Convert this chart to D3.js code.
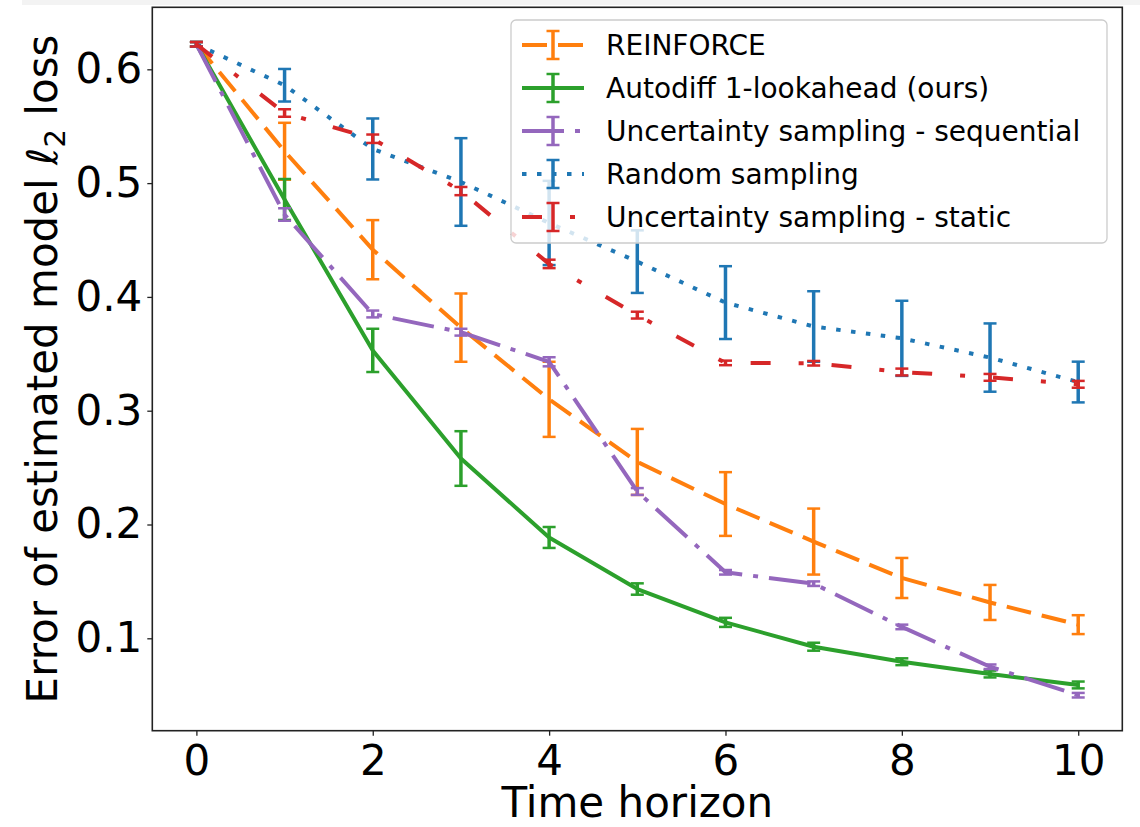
<!DOCTYPE html>
<html>
<head>
<meta charset="utf-8">
<script src="https://cdn.jsdelivr.net/npm/d3@7"></script>
<style>
  body { margin: 0; background: #fff; }
  svg { display: block; font-family: "DejaVu Sans", sans-serif; }
</style>
</head>
<body>
<div id="chart"></div>
<script>
// values (mean +- error at each time step)
const steps = [0, 1, 2, 3, 4, 5, 6, 7, 8, 9, 10];

const reinforce_mean = [0.622, 0.528, 0.4415, 0.373, 0.310, 0.255, 0.218, 0.185, 0.153, 0.1315, 0.112];
const reinforce_err = [0.002, 0.025, 0.026, 0.030, 0.033, 0.029, 0.028, 0.029, 0.0176, 0.0154, 0.0083];

const autodiff_mean = [0.622, 0.4856, 0.353, 0.258, 0.1886, 0.1433, 0.114, 0.0926, 0.0794, 0.0686, 0.059];
const autodiff_err = [0.002, 0.018, 0.019, 0.024, 0.0092, 0.005, 0.004, 0.0035, 0.003, 0.003, 0.003];

const seq_mean = [0.622, 0.4724, 0.385, 0.369, 0.343, 0.229, 0.158, 0.148, 0.110, 0.075, 0.050];
const seq_err = [0.002, 0.0055, 0.003, 0.003, 0.004, 0.003, 0.002, 0.002, 0.002, 0.002, 0.002];

const random_mean = [0.622, 0.586, 0.530, 0.501, 0.465, 0.431, 0.395, 0.374, 0.3636, 0.3467, 0.3252];
const random_err = [0.002, 0.0143, 0.0268, 0.0385, 0.037, 0.0275, 0.032, 0.031, 0.033, 0.030, 0.0179];

const static_mean = [0.622, 0.5616, 0.539, 0.493, 0.429, 0.384, 0.342, 0.3417, 0.334, 0.3293, 0.3232];
const static_err = [0.002, 0.0033, 0.0037, 0.0036, 0.0037, 0.003, 0.002, 0.002, 0.003, 0.003, 0.003];

const labels = [
    "REINFORCE",
    "Autodiff 1-lookahead (ours)",
    "Uncertainty sampling - sequential",
    "Random sampling",
    "Uncertainty sampling - static"
];
const x_ticks = [0, 2, 4, 6, 8, 10];
const y_ticks = [0.1, 0.2, 0.3, 0.4, 0.5, 0.6];

const COLORS = ["#ff7f0e", "#2ca02c", "#9467bd", "#1f77b4", "#d62728"];
const DASHES = ["25,11", null, "42,11,5,11", "4.5,10.5", "20,28,5,28"];

const series = [
    { mean: reinforce_mean, err: reinforce_err },
    { mean: autodiff_mean, err: autodiff_err },
    { mean: seq_mean, err: seq_err },
    { mean: random_mean, err: random_err },
    { mean: static_mean, err: static_err }
];

const W = 1140, H = 827;
const plot = { left: 152.3, right: 1122.3, top: 7.3, bottom: 730.7 };

const svg = d3.select("#chart").append("svg")
    .attr("width", W)
    .attr("height", H);

// faint grey strip along the top of the image
svg.append("rect")
    .attr("x", 22).attr("y", 0)
    .attr("width", W - 22).attr("height", 5)
    .attr("fill", "#f3f3f3");

const x = d3.scaleLinear().domain([-0.5, 10.5]).range([plot.left, plot.right]);
const y = d3.scaleLinear().domain([0.0188, 0.6545]).range([plot.bottom, plot.top]);

const line = d3.line()
    .x((d, i) => x(steps[i]))
    .y(d => y(d));

const cap = 6.5;

series.forEach((s, k) => {
    const g = svg.append("g");
    const path = g.append("path")
        .datum(s.mean)
        .attr("fill", "none")
        .attr("stroke", COLORS[k])
        .attr("stroke-width", 4)
        .attr("stroke-linecap", "butt")
        .attr("stroke-linejoin", "round")
        .attr("d", line);
    if (DASHES[k]) path.attr("stroke-dasharray", DASHES[k]);

    steps.forEach((t, i) => {
        const lo = y(s.mean[i] - s.err[i]);
        const hi = y(s.mean[i] + s.err[i]);
        g.append("line")
            .attr("x1", x(t)).attr("x2", x(t))
            .attr("y1", lo).attr("y2", hi)
            .attr("stroke", COLORS[k])
            .attr("stroke-width", 3.5);
        [lo, hi].forEach(yy => {
            g.append("line")
                .attr("x1", x(t) - cap).attr("x2", x(t) + cap)
                .attr("y1", yy).attr("y2", yy)
                .attr("stroke", COLORS[k])
                .attr("stroke-width", 2.5);
        });
    });
});

// frame
svg.append("rect")
    .attr("x", plot.left).attr("y", plot.top)
    .attr("width", plot.right - plot.left)
    .attr("height", plot.bottom - plot.top)
    .attr("fill", "none")
    .attr("stroke", "#222")
    .attr("stroke-width", 1.6);

// Add the X Axis
const xAxis = svg.append("g")
    .attr("transform", "translate(0," + plot.bottom + ")")
    .call(d3.axisBottom(x).tickValues(x_ticks).tickSize(5).tickPadding(9).tickFormat(d3.format("d")));
xAxis.select(".domain").remove();
xAxis.selectAll("line").attr("stroke", "#222").attr("stroke-width", 1.3);
xAxis.selectAll("text")
    .attr("font-size", "42px")
    .attr("fill", "#000")
    .attr("font-family", "DejaVu Sans");

// Add the Y Axis
const yAxis = svg.append("g")
    .attr("transform", "translate(" + plot.left + ",0)")
    .call(d3.axisLeft(y).tickValues(y_ticks).tickSize(5).tickPadding(5).tickFormat(d3.format(".1f")));
yAxis.select(".domain").remove();
yAxis.selectAll("line").attr("stroke", "#222").attr("stroke-width", 1.3);
yAxis.selectAll("text")
    .attr("font-size", "42px")
    .attr("fill", "#000")
    .attr("font-family", "DejaVu Sans");

// axis titles
svg.append("text")
    .attr("x", (plot.left + plot.right) / 2)
    .attr("y", 817)
    .attr("text-anchor", "middle")
    .attr("font-size", "42px")
    .text("Time horizon");

const ylab = svg.append("text")
    .attr("transform", "translate(57," + ((plot.top + plot.bottom) / 2) + ") rotate(-90)")
    .attr("text-anchor", "middle")
    .attr("font-size", "42px");
ylab.append("tspan").text("Error of estimated model ");
ylab.append("tspan").attr("font-style", "italic").text("\u2113");
ylab.append("tspan").attr("font-size", "29px").attr("dy", 8).text("2");
ylab.append("tspan").attr("dy", -8).text(" loss");

// legend
const legend = svg.append("g");
legend.append("rect")
    .attr("x", 511).attr("y", 20)
    .attr("width", 596).attr("height", 223)
    .attr("rx", 5)
    .attr("fill", "white").attr("fill-opacity", 0.8)
    .attr("stroke", "#cccccc").attr("stroke-width", 1.3);

labels.forEach((name, k) => {
    const cy = 45 + k * 43;
    const h = legend.append("line")
        .attr("x1", 522).attr("x2", 584)
        .attr("y1", cy).attr("y2", cy)
        .attr("stroke", COLORS[k])
        .attr("stroke-width", 4);
    if (DASHES[k]) h.attr("stroke-dasharray", DASHES[k]);
    legend.append("line")
        .attr("x1", 553).attr("x2", 553)
        .attr("y1", cy - 14).attr("y2", cy + 14)
        .attr("stroke", COLORS[k]).attr("stroke-width", 3.5);
    [cy - 14, cy + 14].forEach(yy => {
        legend.append("line")
            .attr("x1", 553 - cap).attr("x2", 553 + cap)
            .attr("y1", yy).attr("y2", yy)
            .attr("stroke", COLORS[k]).attr("stroke-width", 2.5);
    });
    legend.append("text")
        .attr("x", 606)
        .attr("y", cy + 10)
        .attr("font-size", "28px")
        .attr("fill", "#000")
        .text(name);
});
</script>
</body>
</html>
